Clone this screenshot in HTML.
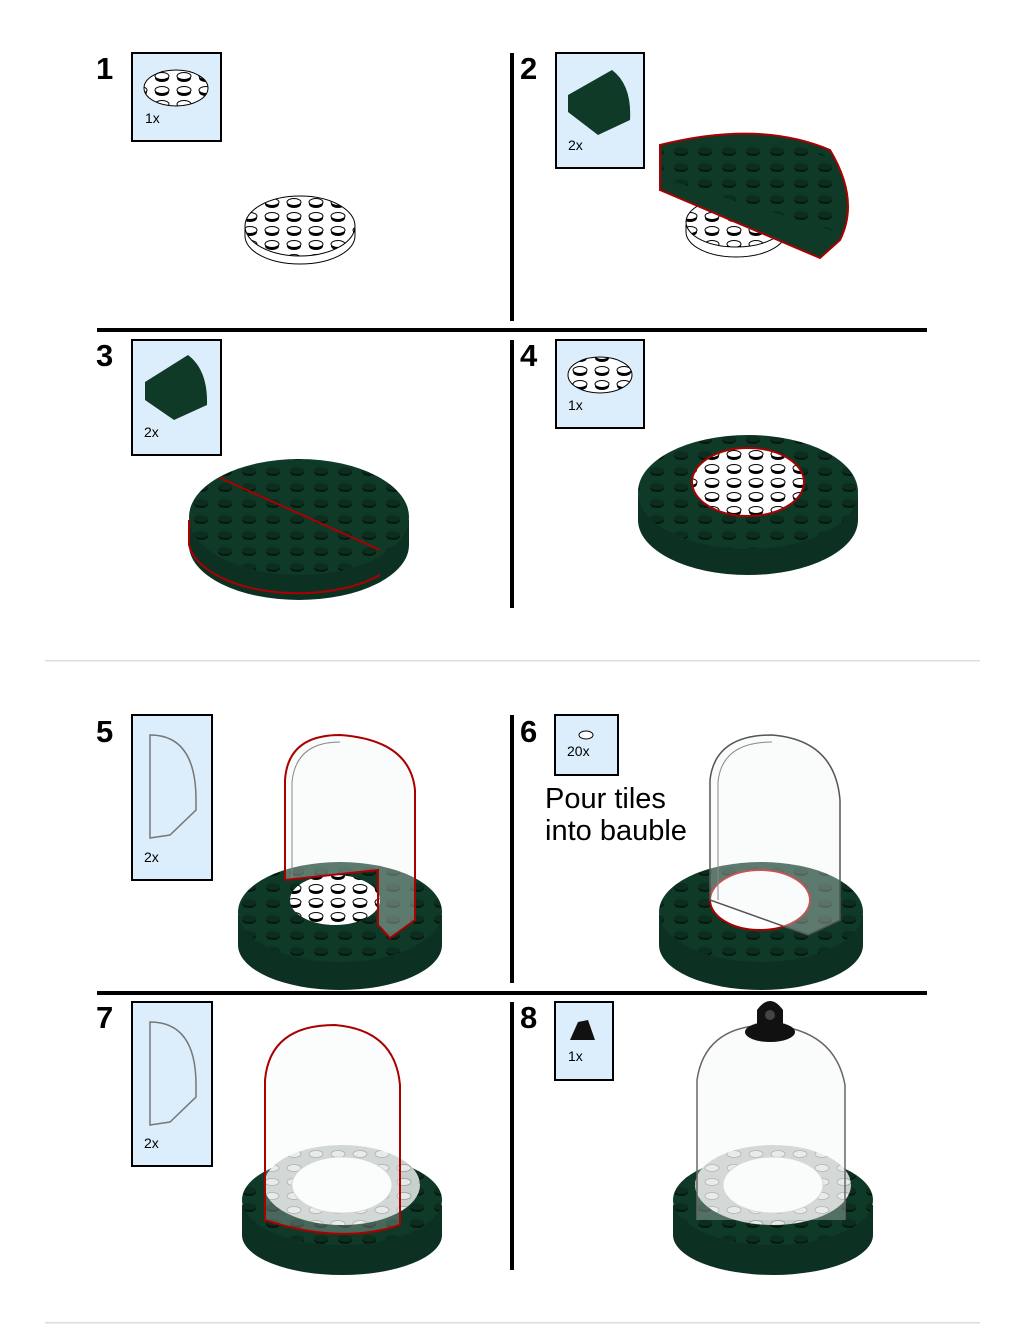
<!DOCTYPE html>
<html><head><style>
html,body{margin:0;padding:0;background:#fff;width:1024px;height:1325px;overflow:hidden}
svg{display:block}
text{font-family:"Liberation Sans",sans-serif}
</style></head><body>
<svg width="1024" height="1325" viewBox="0 0 1024 1325" xmlns="http://www.w3.org/2000/svg">
<defs>
<pattern id="gs" width="24" height="16" patternUnits="userSpaceOnUse">
<rect width="24" height="16" fill="#0f3a28"/>
<ellipse cx="9" cy="8" rx="7" ry="4" fill="#05170f"/>
<ellipse cx="9" cy="6.5" rx="7" ry="3.5" fill="#0b2e1f"/>
</pattern>
<pattern id="ws" width="22" height="14" patternUnits="userSpaceOnUse">
<rect width="22" height="14" fill="#fff"/>
<ellipse cx="8" cy="8" rx="7" ry="4" fill="#000"/>
<ellipse cx="8" cy="6" rx="7" ry="3.5" fill="#fff" stroke="#000" stroke-width="1"/>
</pattern>
<pattern id="ts" width="22" height="14" patternUnits="userSpaceOnUse">
<rect width="22" height="14" fill="#c9cfcc"/>
<ellipse cx="8" cy="6" rx="7" ry="3.5" fill="#e6e9e8" stroke="#999" stroke-width="0.8"/>
</pattern>
</defs>

<g fill="#000">
<rect x="510" y="53" width="4" height="268"/>
<rect x="97" y="328" width="830" height="4"/>
<rect x="510" y="340" width="4" height="268"/>
<rect x="510" y="715" width="4" height="268"/>
<rect x="97" y="991" width="830" height="4"/>
<rect x="510" y="1002" width="4" height="268"/>
</g>
<rect x="45" y="660" width="935" height="1.5" fill="#ddd"/>
<rect x="45" y="1322" width="935" height="1.5" fill="#ddd"/>

<g font-size="31" font-weight="bold">
<text x="96" y="79">1</text><text x="520" y="79">2</text>
<text x="96" y="366">3</text><text x="520" y="366">4</text>
<text x="96" y="742">5</text><text x="520" y="742">6</text>
<text x="96" y="1028">7</text><text x="520" y="1028">8</text>
</g>

<g fill="#dceefb" stroke="#000" stroke-width="2">
<rect x="132" y="53" width="89" height="88"/>
<rect x="556" y="53" width="88" height="115"/>
<rect x="132" y="340" width="89" height="115"/>
<rect x="556" y="340" width="88" height="88"/>
<rect x="132" y="715" width="80" height="165"/>
<rect x="555" y="715" width="63" height="60"/>
<rect x="132" y="1002" width="80" height="164"/>
<rect x="555" y="1002" width="58" height="78"/>
</g>
<g font-size="14">
<text x="145" y="123">1x</text><text x="568" y="150">2x</text>
<text x="144" y="437">2x</text><text x="568" y="410">1x</text>
<text x="144" y="862">2x</text><text x="567" y="756">20x</text>
<text x="144" y="1148">2x</text><text x="568" y="1061">1x</text>
</g>
<ellipse cx="176" cy="88" rx="32" ry="18" fill="url(#ws)" stroke="#000"/>
<ellipse cx="600" cy="375" rx="32" ry="18" fill="url(#ws)" stroke="#000"/>
<path d="M568 95 L612 70 Q632 85 630 120 L598 135 L568 112 Z" fill="#0f3a28"/>
<path d="M145 382 L188 355 Q208 370 207 405 L174 420 L145 400 Z" fill="#0f3a28"/>
<g fill="none" stroke="#777" stroke-width="1.5">
<path d="M150 735 Q196 735 196 800 L196 810 L170 835 L150 838 Z"/>
<path d="M150 1022 Q196 1022 196 1085 L196 1097 L170 1122 L150 1125 Z"/>
</g>
<ellipse cx="586" cy="735" rx="7" ry="4" fill="#fff" stroke="#000"/>
<path d="M570 1040 L578 1022 L588 1020 L595 1040 Z" fill="#111"/>
<text x="545" y="808" font-size="29">Pour tiles</text>
<text x="545" y="840" font-size="29">into bauble</text>

<path d="M245 228 L245 236 A55 28 0 0 0 355 236 L355 228 Z" fill="#fff" stroke="#000"/>
<ellipse cx="300" cy="226" rx="55" ry="30" fill="url(#ws)" stroke="#000"/>

<path d="M686 225 L686 232 A50 25 0 0 0 786 232 L786 225 Z" fill="#fff" stroke="#000"/>
<ellipse cx="736" cy="222" rx="50" ry="25" fill="url(#ws)" stroke="#000"/>
<path d="M660 145 Q760 120 830 150 Q860 200 840 240 L820 258 L660 190 Z" fill="#0f3a28" stroke="#a00" stroke-width="2"/>
<path d="M662 150 Q760 128 826 156 Q852 198 836 232 L662 178 Z" fill="url(#gs)"/>

<path d="M189 520 L189 545 A110 55 0 0 0 409 545 L409 520 Z" fill="#0c3122"/>
<ellipse cx="299" cy="517" rx="110" ry="58" fill="url(#gs)"/>
<path d="M189 520 L189 545 A110 55 0 0 0 380 575" fill="none" stroke="#a00" stroke-width="2"/>
<line x1="220" y1="478" x2="380" y2="550" stroke="#a00" stroke-width="2"/>

<path d="M638 495 L638 520 A110 55 0 0 0 858 520 L858 495 Z" fill="#0c3122"/>
<ellipse cx="748" cy="492" rx="110" ry="57" fill="url(#gs)"/>
<ellipse cx="748" cy="482" rx="56" ry="34" fill="url(#ws)" stroke="#a00" stroke-width="2"/>

<path d="M238 915 L238 945 A102 45 0 0 0 442 945 L442 915 Z" fill="#0c3122"/>
<ellipse cx="340" cy="912" rx="102" ry="50" fill="url(#gs)"/>
<ellipse cx="335" cy="900" rx="45" ry="25" fill="url(#ws)"/>
<path d="M285 880 L285 780 Q288 735 340 735 Q410 740 415 790 L415 920 L390 938 L378 925 L378 870 L285 880" fill="rgba(240,243,243,0.35)" stroke="#a00" stroke-width="2"/>
<path d="M292 878 L292 782 Q296 742 340 742" fill="none" stroke="#888"/>

<path d="M659 915 L659 945 A102 45 0 0 0 863 945 L863 915 Z" fill="#0c3122"/>
<ellipse cx="761" cy="912" rx="102" ry="50" fill="url(#gs)"/>
<ellipse cx="760" cy="900" rx="50" ry="30" fill="#fff" stroke="#a00" stroke-width="2"/>
<path d="M710 900 L710 780 Q715 735 772 735 Q835 740 840 800 L840 920 L808 935 Z" fill="rgba(240,243,243,0.35)" stroke="#555" stroke-width="1.5"/>
<path d="M718 900 L718 782 Q722 742 772 742" fill="none" stroke="#888"/>

<path d="M242 1205 L242 1235 A100 40 0 0 0 442 1235 L442 1205 Z" fill="#0c3122"/>
<ellipse cx="342" cy="1200" rx="100" ry="45" fill="url(#gs)"/>
<ellipse cx="342" cy="1185" rx="78" ry="40" fill="url(#ts)"/>
<ellipse cx="342" cy="1185" rx="50" ry="28" fill="#fff" stroke="#ccc"/>
<path d="M265 1220 L265 1080 Q270 1025 335 1025 Q395 1030 400 1085 L400 1225 Q340 1245 265 1220 Z" fill="rgba(240,243,243,0.25)" stroke="#a00" stroke-width="2"/>

<path d="M673 1205 L673 1235 A100 40 0 0 0 873 1235 L873 1205 Z" fill="#0c3122"/>
<ellipse cx="773" cy="1200" rx="100" ry="45" fill="url(#gs)"/>
<ellipse cx="773" cy="1185" rx="78" ry="40" fill="url(#ts)"/>
<ellipse cx="773" cy="1185" rx="50" ry="28" fill="#fff" stroke="#ccc"/>
<path d="M697 1220 L697 1080 Q705 1025 770 1025 Q835 1030 845 1085 L845 1220" fill="rgba(240,243,243,0.3)" stroke="#666" stroke-width="1.5"/>
<ellipse cx="770" cy="1032" rx="25" ry="10" fill="#111"/>
<path d="M757 1030 L757 1010 Q770 992 783 1010 L783 1030 Z" fill="#111"/>
<circle cx="770" cy="1015" r="5" fill="#444"/>
</svg>
</body></html>
